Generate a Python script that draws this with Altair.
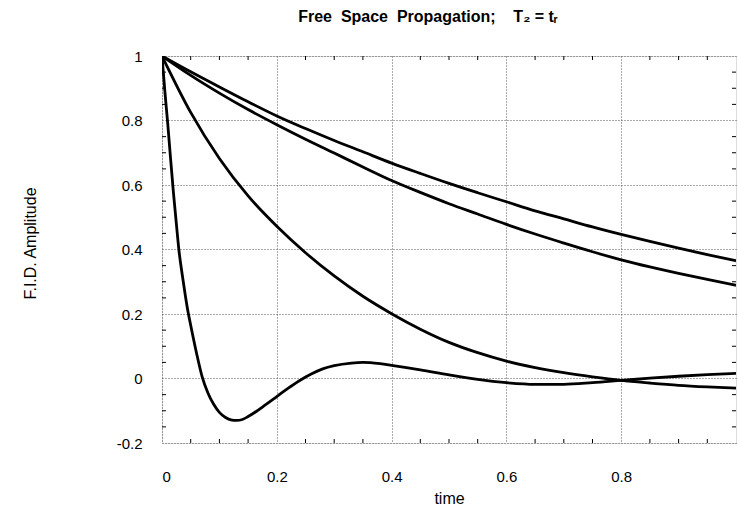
import altair as alt
import pandas as pd

# Series values
t_a = [0, 0.05, 0.1, 0.15, 0.2, 0.25, 0.3, 0.35, 0.4, 0.45, 0.5, 0.55, 0.6, 0.65, 0.7, 0.75, 0.8, 0.85, 0.9, 0.95, 1.0]
v_a = [1, 0.951, 0.904, 0.858, 0.814, 0.775, 0.738, 0.703, 0.668, 0.636, 0.605, 0.576, 0.548, 0.52, 0.495, 0.47, 0.447, 0.425, 0.404, 0.384, 0.365]
v_b = [1, 0.94, 0.885, 0.834, 0.787, 0.742, 0.699, 0.656, 0.614, 0.577, 0.542, 0.51, 0.478, 0.448, 0.42, 0.393, 0.368, 0.346, 0.326, 0.307, 0.289]
v_c = [1, 0.825, 0.682, 0.566, 0.472, 0.39, 0.318, 0.255, 0.201, 0.153, 0.112, 0.08, 0.054, 0.034, 0.018, 0.005, -0.006, -0.014, -0.021, -0.026, -0.03]

t_d = [0, 0.005, 0.01, 0.015, 0.02, 0.025, 0.03, 0.035, 0.04, 0.045, 0.05, 0.06, 0.07, 0.08, 0.09, 0.1,
       0.11, 0.12, 0.13, 0.14, 0.15, 0.16, 0.18, 0.2, 0.22, 0.24, 0.26, 0.28, 0.3, 0.33, 0.35, 0.38, 0.4,
       0.45, 0.5, 0.55, 0.6, 0.65, 0.7, 0.75, 0.8, 0.85, 0.9, 0.95, 1.0]
v_d = [1, 0.89, 0.79, 0.68, 0.575, 0.48, 0.39, 0.325, 0.265, 0.21, 0.165, 0.08, 0.005, -0.045, -0.08, -0.105,
       -0.12, -0.128, -0.13, -0.127, -0.118, -0.107, -0.082, -0.056, -0.03, -0.006, 0.014, 0.03, 0.04, 0.048, 0.05, 0.046, 0.041,
       0.027, 0.011, -0.003, -0.013, -0.018, -0.018, -0.013, -0.006, 0.001, 0.007, 0.012, 0.016]

x_ticks = [0, 0.2, 0.4, 0.6, 0.8]
y_ticks = [-0.2, 0, 0.2, 0.4, 0.6, 0.8, 1.0]
minor_x = [0.05, 0.1, 0.15, 0.25, 0.3, 0.35, 0.45, 0.5, 0.55, 0.65, 0.7, 0.75, 0.85, 0.9, 0.95]
minor_y = [-0.15, -0.1, -0.05, 0.05, 0.1, 0.15, 0.25, 0.3, 0.35, 0.45, 0.5, 0.55, 0.65, 0.7, 0.75, 0.85, 0.9, 0.95]

rows = []
for name, ts, vs in [("a", t_a, v_a), ("b", t_a, v_b), ("c", t_a, v_c), ("d", t_d, v_d)]:
    for t, v in zip(ts, vs):
        rows.append({"series": name, "t": t, "v": v})
df = pd.DataFrame(rows)

W, H = 574, 387
FONT = "Liberation Sans"

xscale = alt.Scale(domain=[0, 1], nice=False)
yscale = alt.Scale(domain=[-0.2, 1], nice=False)

lines = alt.Chart(df).mark_line(color="black", strokeWidth=2.8, interpolate="monotone", clip=True).encode(
    x=alt.X("t:Q", scale=xscale, title="time",
            axis=alt.Axis(values=x_ticks, grid=True, gridDash=[1, 2], gridColor="#555", gridWidth=1,
                          ticks=False, domain=False, labelPadding=26, labelFontSize=15, labelFont=FONT,
                          labelExpr="toString(round(datum.value*10)/10)", labelColor="black",
                          titleFont=FONT, titleFontSize=16, titleFontWeight="normal", titlePadding=6,
                          titleColor="black")),
    y=alt.Y("v:Q", scale=yscale, title="F.I.D. Amplitude",
            axis=alt.Axis(values=y_ticks, grid=True, gridDash=[1, 2], gridColor="#555", gridWidth=1,
                          ticks=False, domain=False, labelPadding=20, labelFontSize=15, labelFont=FONT,
                          labelExpr="toString(round(datum.value*10)/10)", labelColor="black",
                          titleFont=FONT, titleFontSize=16, titleFontWeight="normal", titleColor="black",
                          titleX=-132, titleY=187, titleAngle=270, titleBaseline="middle")),
    detail="series:N",
)

mx = pd.DataFrame({"t": minor_x})
my = pd.DataFrame({"v": minor_y})

tick_bottom = alt.Chart(mx).mark_rule(color="black", strokeWidth=1).encode(
    x=alt.X("t:Q", scale=xscale), y=alt.value(H), y2=alt.value(H - 4))
tick_top = alt.Chart(mx).mark_rule(color="black", strokeWidth=1).encode(
    x=alt.X("t:Q", scale=xscale), y=alt.value(0), y2=alt.value(4))
tick_left = alt.Chart(my).mark_rule(color="black", strokeWidth=1).encode(
    y=alt.Y("v:Q", scale=yscale), x=alt.value(0), x2=alt.value(4))
tick_right = alt.Chart(my).mark_rule(color="black", strokeWidth=1).encode(
    y=alt.Y("v:Q", scale=yscale), x=alt.value(W), x2=alt.value(W - 4))

chart = alt.layer(lines, tick_bottom, tick_top, tick_left, tick_right).properties(
    width=W, height=H,
    title=alt.TitleParams(
        text="Free\u00a0\u00a0Space\u00a0\u00a0Propagation;\u00a0\u00a0\u00a0\u00a0T\u2082 = t\u1d63",
        anchor="middle", dx=-21, offset=24, font=FONT, fontSize=16, fontWeight="bold", color="black"),
    autosize=alt.AutoSizeParams(type="none"),
    padding={"left": 162, "top": 56, "right": 2, "bottom": 64},
).configure_view(stroke="black", strokeWidth=1).configure(background="white")

chart.save("out.html", embed_options={"renderer": "svg", "actions": False})
